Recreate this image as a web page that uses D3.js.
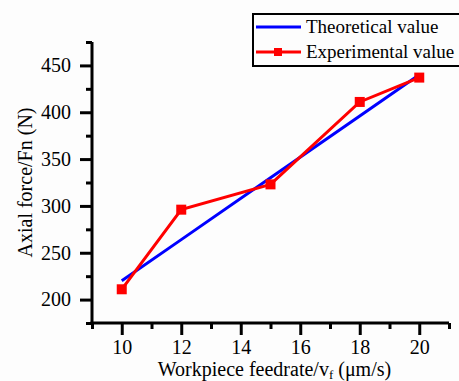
<!DOCTYPE html>
<html>
<head>
<meta charset="utf-8">
<script src="https://cdn.jsdelivr.net/npm/d3@7"></script>
<style>
  body { margin: 0; background: #fdfdfd; }
  svg text { font-family: 'Liberation Serif', 'Times New Roman', serif !important; }
</style>
</head>
<body>
<svg id="chart"></svg>
<script>
// feedrate (um/s)
const feedrate = [10, 12, 15, 18, 20];
const theoretical = [220, 264, 330, 396, 440];
const experimental = [211, 296, 323, 411, 437];
const xTicks = [10, 12, 14, 16, 18, 20];
const yTicks = [200, 250, 300, 350, 400, 450];

const W = 459, H = 381;
const margin = { left: 92, top: 42, right: 10, bottom: 58 };

const svg = d3.select('#chart').attr('width', W).attr('height', H);

const x = d3.scaleLinear().domain([9, 21]).range([margin.left, 449]);
const y = d3.scaleLinear().domain([175, 475]).range([323, margin.top]);

// minor ticks first
const minorX = d3.range(9, 22, 1).filter(v => !xTicks.includes(v));
const minorY = d3.range(175, 476, 25).filter(v => !yTicks.includes(v));

const gx = svg.append('g').attr('transform', `translate(0,${y.range()[0]})`);
gx.call(d3.axisBottom(x).tickValues(minorX).tickSize(6).tickFormat(''));
gx.call(g => g.append('g').call(d3.axisBottom(x).tickValues(xTicks).tickSize(12).tickPadding(5).tickFormat(d3.format('d'))));

const gy = svg.append('g').attr('transform', `translate(${x.range()[0]},0)`);
gy.call(d3.axisLeft(y).tickValues(minorY).tickSize(6).tickFormat(''));
gy.call(g => g.append('g').call(d3.axisLeft(y).tickValues(yTicks).tickSize(12).tickPadding(9)));

// plain axis lines instead of the default domain paths
svg.selectAll('.domain').remove();
gx.append('line').attr('x1', x.range()[0] - 1.5).attr('x2', x.range()[1]).attr('stroke', '#000').attr('stroke-width', 3);
gy.append('line').attr('y1', y.range()[0] + 1.5).attr('y2', y.range()[1]).attr('stroke', '#000').attr('stroke-width', 3);

svg.selectAll('.tick line').attr('stroke', '#000').attr('stroke-width', 3);
svg.selectAll('.tick text').attr('fill', '#000').attr('font-size', 20);

// axis titles
svg.append('text')
  .attr('transform', `translate(32,${(y.range()[0] + y.range()[1]) / 2}) rotate(-90)`)
  .attr('text-anchor', 'middle')
  .attr('font-size', 20)
  .text('Axial force/Fn (N)');

const xt = svg.append('text')
  .attr('x', (x.range()[0] + x.range()[1]) / 2 + 4)
  .attr('y', 376)
  .attr('text-anchor', 'middle')
  .attr('font-size', 20);
xt.append('tspan').text('Workpiece feedrate/v');
xt.append('tspan').attr('dy', 3).attr('font-size', 13).text('f');
xt.append('tspan').attr('dy', -3).text(' (\u03bcm/s)');

// lines
const line = d3.line().x(d => x(d[0])).y(d => y(d[1]));

svg.append('path')
  .datum(feedrate.map((f, i) => [f, theoretical[i]]))
  .attr('fill', 'none').attr('stroke', '#0000ff').attr('stroke-width', 3)
  .attr('d', line);

const expData = feedrate.map((f, i) => [f, experimental[i]]);
svg.append('path')
  .datum(expData)
  .attr('fill', 'none').attr('stroke', '#ff0000').attr('stroke-width', 3)
  .attr('d', line);

svg.selectAll('.marker').data(expData).enter().append('rect')
  .attr('class', 'marker')
  .attr('x', d => x(d[0]) - 5).attr('y', d => y(d[1]) - 5)
  .attr('width', 10).attr('height', 10)
  .attr('fill', '#ff0000');

// legend
const lg = svg.append('g');
lg.append('rect').attr('x', 253).attr('y', 14).attr('width', 212).attr('height', 52)
  .attr('fill', 'none').attr('stroke', '#000').attr('stroke-width', 2);
const items = [
  { name: 'Theoretical value', color: '#0000ff', marker: false },
  { name: 'Experimental value', color: '#ff0000', marker: true }
];
items.forEach((it, i) => {
  const cy = 27 + i * 25;
  lg.append('line').attr('x1', 256).attr('x2', 301).attr('y1', cy).attr('y2', cy)
    .attr('stroke', it.color).attr('stroke-width', 3);
  if (it.marker) lg.append('rect').attr('x', 274).attr('y', cy - 4).attr('width', 8).attr('height', 8).attr('fill', it.color);
  lg.append('text').attr('x', 306).attr('y', cy + 6).attr('font-size', 19).text(it.name);
});
</script>
</body>
</html>
